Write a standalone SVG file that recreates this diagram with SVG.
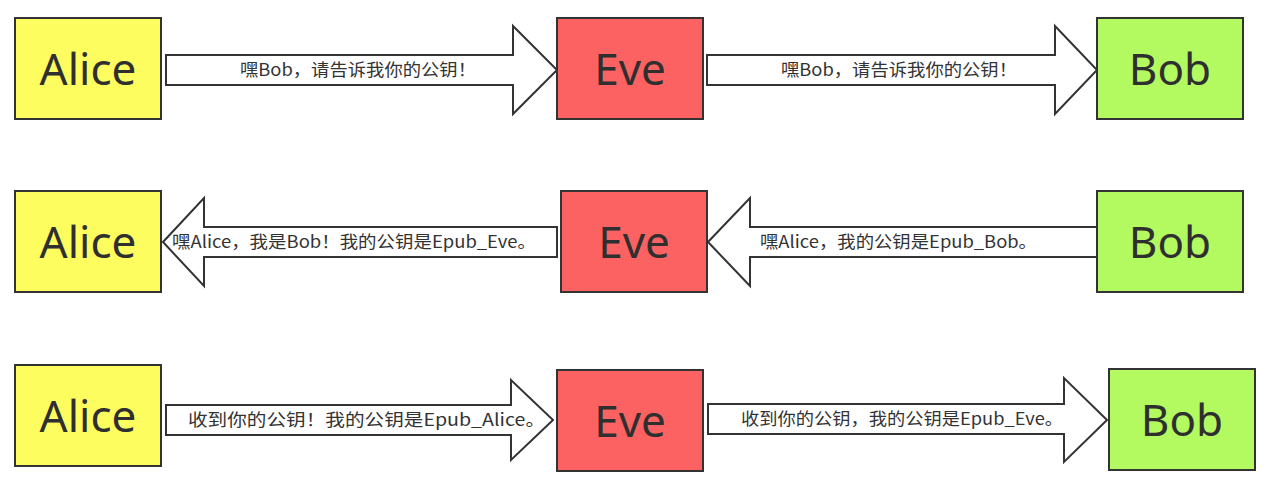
<svg xmlns="http://www.w3.org/2000/svg" width="1280" height="500" viewBox="0 0 1280 500">
<style>
.box{stroke:#333;stroke-width:2}
.alice{fill:#FDFD60}
.eve{fill:#FC6262}
.bob{fill:#B2FA60}
.name{font-family:"Noto Sans","Noto Sans CJK SC",sans-serif;font-size:44px;fill:#2f2f2f;text-anchor:middle}
.arrow{fill:#fff;stroke:#333;stroke-width:2;stroke-linejoin:miter}
.msg{font-family:"Noto Sans CJK SC","Noto Sans",sans-serif;font-size:17px;fill:#333}
</style>
<rect width="1280" height="500" fill="#fff"/>
<g id="connectors">
<path class="arrow" d="M166,55 H513 V26 L557,70 L513,114 V85 H166 Z"/>
<path class="arrow" d="M707,55 H1055 V26 L1097,70 L1055,114 V85 H707 Z"/>
<path class="arrow" d="M163,242 L204,198 V227 H557 V257 H204 V286 Z"/>
<path class="arrow" d="M708,242 L750,198 V227 H1097 V257 H750 V286 Z"/>
<path class="arrow" d="M166,405 H511 V380 L553,420 L511,460 V435 H166 Z"/>
<path class="arrow" d="M708,404 H1064 V378 L1107,420 L1064,462 V434 H708 Z"/>
<text class="msg" x="240" y="76" textLength="236" lengthAdjust="spacingAndGlyphs">嘿Bob，请告诉我你的公钥！</text>
<text class="msg" x="781" y="76" textLength="236" lengthAdjust="spacingAndGlyphs">嘿Bob，请告诉我你的公钥！</text>
<text class="msg" x="172" y="248" textLength="364" lengthAdjust="spacingAndGlyphs">嘿Alice，我是Bob！我的公钥是Epub_Eve。</text>
<text class="msg" x="760" y="248" textLength="277" lengthAdjust="spacingAndGlyphs">嘿Alice，我的公钥是Epub_Bob。</text>
<text class="msg" x="188" y="426" textLength="357" lengthAdjust="spacingAndGlyphs">收到你的公钥！我的公钥是Epub_Alice。</text>
<text class="msg" x="741" y="425" textLength="322" lengthAdjust="spacingAndGlyphs">收到你的公钥，我的公钥是Epub_Eve。</text>
</g>
<g id="alice1"><rect class="box alice" x="15" y="18" width="146" height="101"/><text class="name" x="88" y="85">Alice</text></g>
<g id="eve1"><rect class="box eve" x="557" y="18" width="146" height="101"/><text class="name" x="630" y="85">Eve</text></g>
<g id="bob1"><rect class="box bob" x="1097" y="18" width="146" height="101"/><text class="name" x="1170" y="85">Bob</text></g>
<g id="alice2"><rect class="box alice" x="15" y="191" width="146" height="101"/><text class="name" x="88" y="258">Alice</text></g>
<g id="eve2"><rect class="box eve" x="561" y="191" width="146" height="101"/><text class="name" x="634" y="258">Eve</text></g>
<g id="bob2"><rect class="box bob" x="1097" y="191" width="146" height="101"/><text class="name" x="1170" y="258">Bob</text></g>
<g id="alice3"><rect class="box alice" x="15" y="365" width="146" height="101"/><text class="name" x="88" y="432">Alice</text></g>
<g id="eve3"><rect class="box eve" x="557" y="370" width="146" height="101"/><text class="name" x="630" y="437">Eve</text></g>
<g id="bob3"><rect class="box bob" x="1109" y="369" width="146" height="101"/><text class="name" x="1182" y="436">Bob</text></g>
</svg>
